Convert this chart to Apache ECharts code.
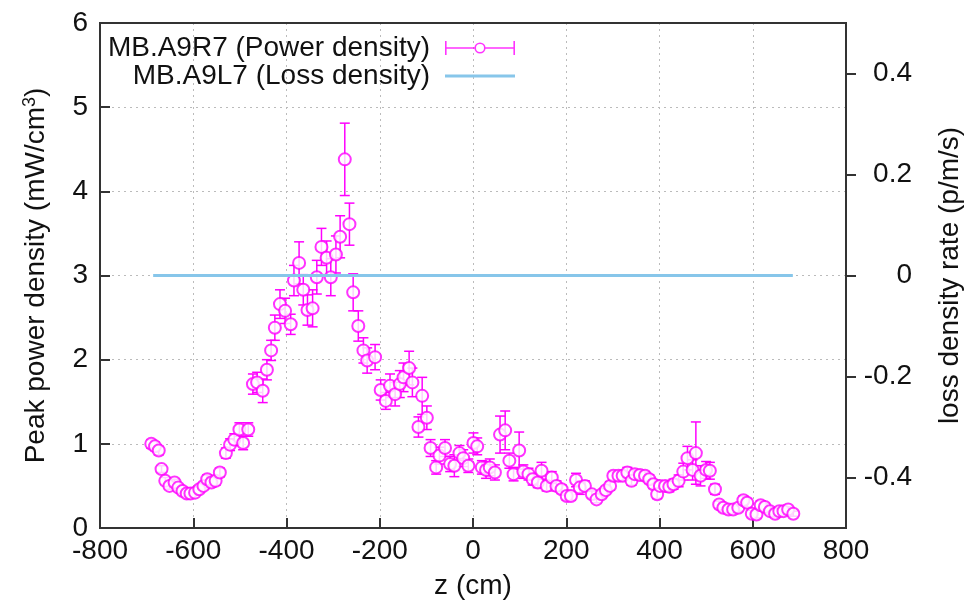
<!DOCTYPE html>
<html>
<head>
<meta charset="utf-8">
<script src="https://cdn.jsdelivr.net/npm/echarts@6/dist/echarts.min.js"></script>
<style>
  html, body { margin: 0; padding: 0; background: #fff; }
  #main { width: 964px; height: 605px; }
</style>
</head>
<body>
<div id="main"></div>
<script>
// z position (cm) of each measurement
var zPos = [
  -690, -682, -674, -668, -660, -651, -640, -632, -623, -614, -606, -596, -587, -578, -570, -561, -552, -543,
  -530, -521, -512, -501, -493, -482, -472, -463, -451, -442, -433, -425, -414, -403, -391, -384, -373, -364,
  -355, -344, -335, -325, -314, -305, -294, -285, -275, -265, -257, -246, -235, -227, -210, -198, -187, -178,
  -167, -157, -149, -137, -130, -117, -109, -99, -91, -79, -72, -60, -49, -40, -29, -21, -10, 1,
  9, 19, 28, 36, 47, 58, 69, 78, 87, 99, 108, 119, 128, 139, 147, 158, 169, 179,
  190, 201, 210, 221, 229, 240, 255, 265, 276, 285, 294, 301, 312, 321, 331, 340, 347, 358,
  369, 378, 387, 395, 401, 412, 421, 430, 441, 451, 460, 471, 478, 488, 500, 508, 519, 528,
  537, 548, 558, 569, 580, 588, 598, 608, 617, 626, 637, 648, 657, 666, 676, 687
];
// peak power density (mW/cm3)
var power = [
  1.00, 0.97, 0.92, 0.70, 0.56, 0.50, 0.54, 0.48, 0.44, 0.41, 0.41, 0.42, 0.46, 0.50, 0.58, 0.54, 0.56, 0.66,
  0.89, 0.99, 1.05, 1.17, 1.01, 1.17, 1.71, 1.73, 1.63, 1.88, 2.11, 2.38, 2.66, 2.58, 2.42, 2.94, 3.15, 2.83,
  2.59, 2.61, 2.98, 3.34, 3.21, 2.98, 3.25, 3.46, 4.38, 3.61, 2.80, 2.40, 2.11, 1.99, 2.03, 1.64, 1.51, 1.69,
  1.59, 1.71, 1.79, 1.90, 1.73, 1.20, 1.57, 1.31, 0.95, 0.72, 0.86, 0.95, 0.76, 0.74, 0.89, 0.83, 0.74, 1.01,
  0.97, 0.72, 0.69, 0.72, 0.66, 1.11, 1.16, 0.80, 0.64, 0.92, 0.67, 0.64, 0.58, 0.54, 0.68, 0.50, 0.60, 0.50,
  0.46, 0.38, 0.38, 0.57, 0.48, 0.50, 0.40, 0.34, 0.40, 0.45, 0.50, 0.62, 0.62, 0.62, 0.66, 0.56, 0.64, 0.63,
  0.62, 0.58, 0.52, 0.40, 0.50, 0.50, 0.49, 0.52, 0.56, 0.67, 0.83, 0.69, 0.89, 0.62, 0.69, 0.68, 0.46, 0.28,
  0.24, 0.22, 0.22, 0.24, 0.33, 0.30, 0.17, 0.16, 0.27, 0.25, 0.20, 0.17, 0.20, 0.20, 0.22, 0.17
];
// error bar half height
var powerErr = [
  0.05, 0.05, 0.05, 0.04, 0.04, 0.04, 0.04, 0.04, 0.03, 0.03, 0.03, 0.03, 0.04, 0.04, 0.05, 0.05, 0.05, 0.05,
  0.06, 0.07, 0.07, 0.08, 0.08, 0.08, 0.12, 0.12, 0.14, 0.12, 0.12, 0.15, 0.17, 0.15, 0.12, 0.18, 0.25, 0.18,
  0.18, 0.22, 0.20, 0.22, 0.20, 0.22, 0.22, 0.25, 0.43, 0.25, 0.22, 0.18, 0.15, 0.15, 0.15, 0.12, 0.10, 0.14,
  0.14, 0.16, 0.17, 0.20, 0.17, 0.12, 0.22, 0.14, 0.10, 0.08, 0.10, 0.10, 0.09, 0.13, 0.09, 0.10, 0.08, 0.12,
  0.10, 0.08, 0.10, 0.10, 0.09, 0.22, 0.23, 0.09, 0.08, 0.22, 0.08, 0.07, 0.07, 0.06, 0.10, 0.06, 0.07, 0.06,
  0.05, 0.05, 0.05, 0.08, 0.08, 0.06, 0.04, 0.04, 0.04, 0.04, 0.05, 0.05, 0.05, 0.05, 0.06, 0.05, 0.05, 0.05,
  0.05, 0.05, 0.05, 0.05, 0.05, 0.05, 0.06, 0.06, 0.07, 0.10, 0.14, 0.12, 0.37, 0.12, 0.10, 0.10, 0.06, 0.04,
  0.04, 0.04, 0.04, 0.04, 0.05, 0.05, 0.04, 0.04, 0.05, 0.04, 0.04, 0.04, 0.03, 0.03, 0.03, 0.03
];
// loss density rate (p/m/s)
var lossZ = [-686, 686];
var loss = [0, 0];
var y2Ticks = [-0.4, -0.2, 0, 0.2, 0.4];

var font = 'Liberation Sans, Arial, sans-serif';
var fs = 28;
var magenta = '#ff00ff';
var sky = '#87c6ea';
var axisColor = '#333';

var myChart = echarts.init(document.getElementById('main'));

var errIcon = 'path://M0 0 H1.6 V14 H0 Z M68.4 0 H70 V14 H68.4 Z M0 6.2 H29.5 V7.8 H0 Z M40.5 6.2 H70 V7.8 H40.5 Z ' +
  'M40.6 7 A5.6 5.6 0 1 1 29.4 7 A5.6 5.6 0 1 1 40.6 7 Z M39 7 A4 4 0 1 0 31 7 A4 4 0 1 0 39 7 Z';

function legendBox(name, icon, top) {
  return {
    data: [{ name: name, icon: icon }],
    selectedMode: false,
    orient: 'vertical',
    align: 'right',
    right: 449,
    top: top,
    padding: 0,
    itemWidth: 70,
    itemHeight: 14,
    itemStyle: { borderWidth: 0 },
    textStyle: { fontSize: fs, color: '#111', fontFamily: font, padding: [0, 10, 0, 0] }
  };
}

myChart.setOption({
  animation: false,
  grid: {
    left: 100, right: 118, top: 23, bottom: 77,
    outerBoundsMode: 'none',
    show: true, borderColor: axisColor, borderWidth: 2
  },
  legend: [
    legendBox('MB.A9R7 (Power density)', errIcon, 34),
    legendBox('MB.A9L7 (Loss density)', 'path://M0 0 H70 V3 H0 Z', 62)
  ],
  xAxis: [
    {
      type: 'value', min: -800, max: 800, interval: 200,
      name: 'z (cm)', nameLocation: 'middle', nameGap: 44,
      nameTextStyle: { fontSize: fs, color: '#111', fontFamily: font },
      axisLine: { onZero: false, lineStyle: { color: axisColor, width: 2 } },
      axisTick: { inside: true, length: 10, lineStyle: { color: axisColor, width: 2 } },
      axisLabel: { fontSize: fs, color: '#111', fontFamily: font, margin: 9 },
      splitLine: { show: true, lineStyle: { color: '#bbb', type: [2, 4], width: 1 } }
    },
    {
      // top border of the frame
      type: 'value', min: -800, max: 800, interval: 200, position: 'top',
      axisLine: { show: true, onZero: false, lineStyle: { color: axisColor, width: 2 } },
      axisTick: { show: false },
      axisLabel: { show: false },
      splitLine: { show: false }
    }
  ],
  yAxis: [
    {
      type: 'value', min: 0, max: 6, interval: 1, position: 'left',
      name: 'Peak power density (mW/cm{sup|3})', nameLocation: 'middle', nameGap: 48, nameRotate: 90,
      nameTextStyle: {
        fontSize: fs, color: '#111', fontFamily: font,
        rich: { sup: { fontSize: 18, color: '#111', fontFamily: font, padding: [0, 0, 13, 0] } }
      },
      axisLine: { show: true, onZero: false, lineStyle: { color: axisColor, width: 2 } },
      axisTick: { inside: true, length: 10, lineStyle: { color: axisColor, width: 2 } },
      axisLabel: { fontSize: fs, color: '#111', fontFamily: font, margin: 12 },
      splitLine: { show: true, lineStyle: { color: '#bbb', type: [2, 4], width: 1 } }
    },
    {
      type: 'value', min: -0.5, max: 0.5, position: 'right',
      name: 'loss density rate (p/m/s)', nameLocation: 'middle', nameGap: 90, nameRotate: 90,
      nameTextStyle: { fontSize: fs, color: '#111', fontFamily: font },
      axisLine: { show: true, onZero: false, lineStyle: { color: axisColor, width: 2 } },
      axisTick: { show: true, length: 10, customValues: y2Ticks, lineStyle: { color: axisColor, width: 2 } },
      axisLabel: { fontSize: fs, color: '#111', fontFamily: font, margin: 66, align: 'right', customValues: y2Ticks },
      splitLine: { show: false }
    }
  ],
  series: [
    {
      name: 'errorbars',
      type: 'custom',
      yAxisIndex: 0,
      z: 2,
      data: zPos.map(function (z, i) { return [z, power[i], powerErr[i]]; }),
      encode: { x: 0, y: 1 },
      renderItem: function (params, api) {
        var x = api.value(0), y = api.value(1), e = api.value(2);
        var top = api.coord([x, y + e]);
        var bot = api.coord([x, y - e]);
        var w = 5;
        var st = { stroke: magenta, lineWidth: 1.5 };
        return {
          type: 'group',
          children: [
            { type: 'line', shape: { x1: top[0], y1: top[1], x2: bot[0], y2: bot[1] }, style: st },
            { type: 'line', shape: { x1: top[0] - w, y1: top[1], x2: top[0] + w, y2: top[1] }, style: st },
            { type: 'line', shape: { x1: bot[0] - w, y1: bot[1], x2: bot[0] + w, y2: bot[1] }, style: st }
          ]
        };
      }
    },
    {
      name: 'MB.A9R7 (Power density)',
      type: 'scatter',
      yAxisIndex: 0,
      z: 3,
      symbol: 'emptyCircle',
      symbolSize: 12,
      itemStyle: { color: magenta, borderColor: magenta, borderWidth: 1.5 },
      data: zPos.map(function (z, i) { return [z, power[i]]; })
    },
    {
      name: 'MB.A9L7 (Loss density)',
      type: 'line',
      yAxisIndex: 1,
      z: 4,
      symbol: 'none',
      color: sky,
      lineStyle: { color: sky, width: 3 },
      data: lossZ.map(function (z, i) { return [z, loss[i]]; })
    }
  ]
});
</script>
</body>
</html>
